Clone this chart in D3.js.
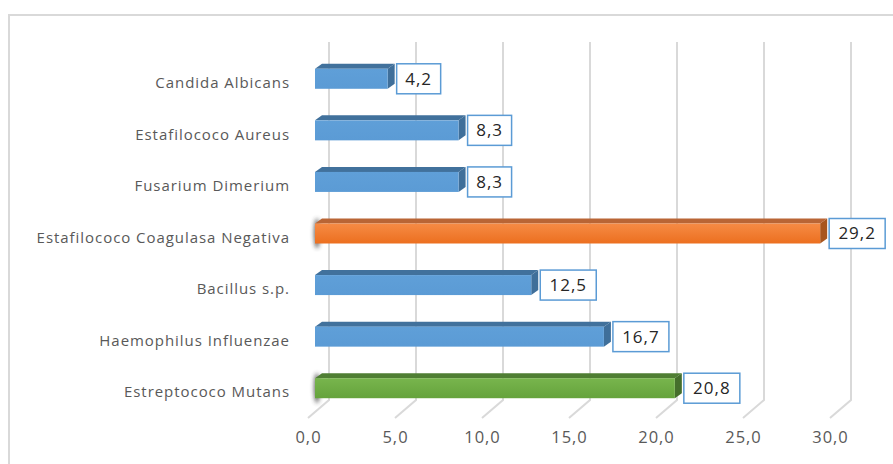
<!DOCTYPE html>
<html>
<head>
<meta charset="utf-8">
<script src="https://cdn.jsdelivr.net/npm/d3@7"></script>
<style>
  body { margin: 0; background: #fff; }
  svg { display: block; }
</style>
</head>
<body>
<svg id="chart" width="893" height="464"></svg>
<script>
    var categories = ['Candida Albicans', 'Estafilococo Aureus', 'Fusarium Dimerium',
      'Estafilococo Coagulasa Negativa', 'Bacillus s.p.', 'Haemophilus Influenzae', 'Estreptococo Mutans'];
    var values = [4.2, 8.3, 8.3, 29.2, 12.5, 16.7, 20.8];
    var tickValues = [0, 5, 10, 15, 20, 25, 30];

    // colour per bar: blue, with the two highlighted ones
    var palette = {
      blue:   { front0: '#5f9fd8', front1: '#5b9bd5', top: '#41719c', side: '#3f6f9a' },
      orange: { front0: '#f68b45', front1: '#ec6f1f', top: '#b96535', side: '#a8561f' },
      green:  { front0: '#78b54d', front1: '#65a33c', top: '#4f7e33', side: '#456e2c' }
    };
    var barColor = ['blue', 'blue', 'blue', 'orange', 'blue', 'blue', 'green'];

    var font = '"Open Sans", Lato, sans-serif';
    var svg = d3.select('#chart');
    var fmt = function(v) { return d3.format('.1f')(v).replace('.', ','); };

    // outer frame
    svg.append('rect').attr('x', 9).attr('y', 15).attr('width', 900).attr('height', 470)
      .attr('fill', 'none').attr('stroke', '#d9d9d9').attr('stroke-width', 2);

    var k = 17.4;
    var xFront = d3.scaleLinear().domain([0, 30]).range([308, 308 + 30 * k]);
    var xBack = d3.scaleLinear().domain([0, 30]).range([329, 329 + 30 * k]);
    // bars sit inside the depth, so a slightly shorter scale
    var xBar = d3.scaleLinear().domain([0, 30]).range([315, 315 + 30 * 17.3]);
    var y = d3.scaleBand().domain(categories).range([57, 418]);

    var defs = svg.append('defs');
    Object.keys(palette).forEach(function(name) {
      var g = defs.append('linearGradient').attr('id', 'grad-' + name)
        .attr('x1', 0).attr('y1', 0).attr('x2', 0).attr('y2', 1);
      g.append('stop').attr('offset', '0%').attr('stop-color', palette[name].front0);
      g.append('stop').attr('offset', '100%').attr('stop-color', palette[name].front1);
    });
    defs.append('filter').attr('id', 'blur').attr('x', '-100%').attr('y', '-50%')
      .attr('width', '300%').attr('height', '200%')
      .append('feGaussianBlur').attr('stdDeviation', 2);

    // gridlines: back wall and floor
    var grid = svg.append('g');
    grid.selectAll('path').data(tickValues).enter().append('path')
      .attr('d', function(d) {
        return 'M' + xBack(d) + ',42 L' + xBack(d) + ',400 L' + xFront(d) + ',418';
      })
      .attr('fill', 'none').attr('stroke', '#d9d9d9').attr('stroke-width', 2);

    // tick labels
    var axis = svg.append('g').attr('transform', 'translate(0,428)')
      .call(d3.axisBottom(xFront).tickValues(tickValues).tickFormat(fmt).tickSize(0));
    axis.select('.domain').remove();
    axis.selectAll('text').attr('fill', '#595959').style('font-family', font)
      .style('font-size', '16.5px').style('letter-spacing', '1px');

    // category labels
    svg.append('g').selectAll('text').data(categories).enter().append('text')
      .attr('x', 290).attr('y', function(d) { return y(d) + y.bandwidth() / 2; })
      .attr('dy', '0.35em').attr('text-anchor', 'end')
      .attr('fill', '#595959').style('font-family', font)
      .style('font-size', '15px').style('letter-spacing', '0.95px')
      .text(function(d) { return d; });

    var dx = 7, dyTop = 5;
    var rows = values.map(function(v, i) {
      return { cat: categories[i], value: v, color: barColor[i] };
    });
    var bars = svg.append('g').selectAll('g').data(rows).enter().append('g');

    // shadow on the highlighted bars
    bars.filter(function(d) { return d.color !== 'blue'; }).append('ellipse')
      .attr('cx', xBar(0) + 2)
      .attr('cy', function(d) { return y(d.cat) + y.bandwidth() / 2 - 4; })
      .attr('rx', 3).attr('ry', 15).attr('fill', '#333').attr('opacity', 0.75)
      .attr('filter', 'url(#blur)');

    bars.each(function(d) {
      var g = d3.select(this);
      var c = y(d.cat) + y.bandwidth() / 2;
      var x0 = xBar(0), x1 = xBar(d.value);
      var top = c - 14, bot = c + 6;
      var col = palette[d.color];
      // top face
      g.append('path').attr('d', 'M' + x0 + ',' + top + ' L' + (x0 + dx) + ',' + (top - dyTop) +
          ' L' + (x1 + dx) + ',' + (top - dyTop) + ' L' + x1 + ',' + top + 'Z')
        .attr('fill', col.top);
      // side face
      g.append('path').attr('d', 'M' + x1 + ',' + top + ' L' + (x1 + dx) + ',' + (top - dyTop) +
          ' L' + (x1 + dx) + ',' + (bot - dyTop) + ' L' + x1 + ',' + bot + 'Z')
        .attr('fill', col.side);
      // front face
      g.append('rect').attr('x', x0).attr('y', top).attr('width', x1 - x0).attr('height', bot - top)
        .attr('fill', 'url(#grad-' + d.color + ')');

      // data label
      var label = fmt(d.value);
      var w = label.length > 3 ? 56 : 44;
      var bx = x1 + dx + 2;
      g.append('rect').attr('x', bx).attr('y', c - 19).attr('width', w).attr('height', 30)
        .attr('fill', '#fff').attr('stroke', '#5b9bd5').attr('stroke-width', 1.5);
      g.append('text').attr('x', bx + w / 2).attr('y', c - 4).attr('dy', '0.35em')
        .attr('text-anchor', 'middle').attr('fill', '#262626')
        .style('font-family', font).style('font-size', '17px').style('letter-spacing', '1px')
        .text(label);
    });
</script>
</body>
</html>
